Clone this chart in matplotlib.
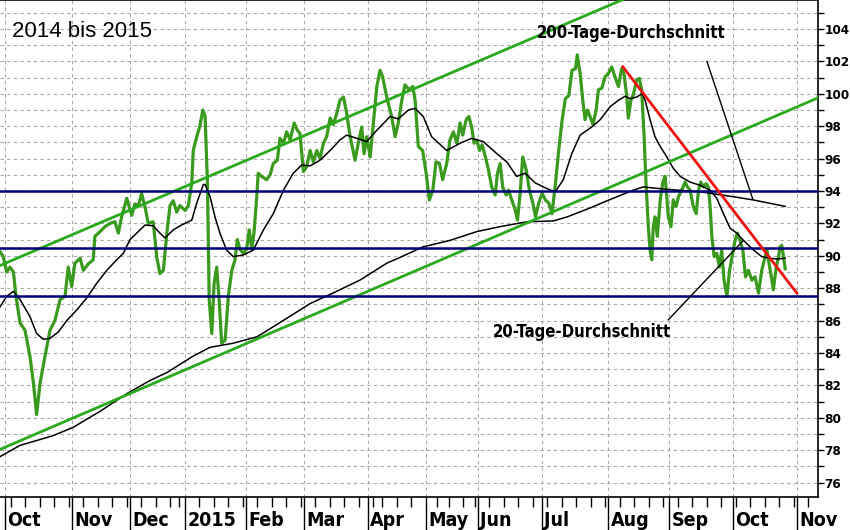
import matplotlib
matplotlib.use("Agg")
from matplotlib import pyplot as plt
from matplotlib import font_manager as fm
from matplotlib.ticker import FixedLocator, NullFormatter
import numpy as np

# trading days counted from 1 Oct 2014
price_day = [-1.7, -0.6, 0.6, 1.7, 2.9, 3.8, 5.2, 6.9, 8.6, 9.8, 10.9, 12.1, 13.8, 15.5, 17.2, 19.0,
             20.7, 21.8, 23.0, 24.1, 25.9, 27.0, 28.7, 30.4, 31.0, 32.8, 34.5, 36.2, 37.9, 39.1, 40.2,
             42.0, 43.7, 44.8, 46.0, 47.1, 48.3, 49.4, 51.1, 52.3, 53.4, 54.6, 55.8, 56.9, 58.0, 59.2,
             60.3, 62.1, 63.2, 64.4, 64.9, 66.1, 67.2, 68.2, 69.0, 69.8, 70.4, 71.3, 72.1, 73.0, 73.9,
             74.7, 75.9, 77.0, 78.2, 79.3, 80.1, 81.0, 82.2, 83.3, 84.2, 85.1, 85.9, 86.8, 87.3, 88.5,
             90.2, 91.4, 92.5, 93.9, 94.8, 96.0, 97.1, 98.3, 99.7, 100.8, 101.7, 102.9, 104.0, 105.2,
             106.3, 107.5, 108.6, 109.8, 110.9, 112.1, 113.2, 114.4, 115.5, 116.7, 117.8, 119.0, 120.7,
             121.8, 123.0, 123.8, 124.7, 125.9, 127.0, 128.2, 129.3, 130.2, 131.6, 133.3, 134.5, 135.6,
             136.8, 137.9, 139.4, 140.6, 141.4, 142.5, 144.0, 145.2, 146.3, 147.5, 148.6, 149.8, 150.9,
             152.3, 153.4, 154.6, 155.8, 156.9, 157.8, 159.0, 159.9, 160.9, 161.7, 162.7, 163.6, 164.5,
             165.5, 166.7, 167.8, 169.0, 169.8, 170.7, 171.6, 172.8, 173.6, 174.7, 175.9, 176.7, 177.6,
             178.5, 179.7, 180.8, 182.0, 182.9, 184.0, 185.2, 186.3, 187.5, 188.6, 189.8, 190.9, 192.1,
             193.2, 194.4, 195.5, 196.7, 197.3, 198.3, 199.2, 200.0, 200.8, 201.7, 202.7, 203.8, 204.6,
             205.8, 206.9, 208.0, 209.2, 210.3, 211.5, 212.6, 213.4, 214.4, 214.9, 215.8, 216.7, 217.8,
             218.7, 219.5, 220.3, 221.0, 221.8, 222.4, 223.0, 223.5, 224.1, 224.9, 225.9, 226.8, 227.6,
             228.7, 229.6, 230.4, 231.4, 232.2, 233.3, 234.5, 235.3, 236.2, 237.3, 238.3, 239.1, 239.9,
             240.8, 241.7, 242.5, 243.1, 243.7, 244.5, 245.4, 246.3, 247.1, 247.9, 248.9, 249.8, 250.7,
             251.7, 252.5, 253.4, 254.4, 255.3, 256.3, 257.5, 258.6, 259.8, 260.9, 261.8, 262.7, 263.4,
             264.4, 264.9, 265.9, 266.7, 267.2, 267.8, 268.4, 269.0]
price = [90.25, 89.95, 89.0, 89.3, 89.0, 87.5, 85.85, 85.4, 83.8, 82.15, 80.2, 82.15, 83.8, 85.4, 86.0, 87.3,
         87.5, 89.3, 88.1, 89.55, 89.85, 89.1, 89.5, 89.75, 91.2, 91.5, 91.8, 92.0, 92.1, 91.4, 92.4,
         93.55, 92.5, 93.2, 93.1, 93.85, 93.0, 92.0, 92.1, 89.95, 88.9, 89.1, 91.4, 93.1, 93.4, 92.7,
         93.1, 92.8, 93.1, 94.5, 96.5, 97.35, 98.0, 99.0, 98.6, 94.5, 87.3, 85.2, 88.3, 89.3, 87.1,
         84.6, 84.8, 87.5, 89.1, 89.75, 91.0, 90.4, 90.15, 90.4, 91.6, 90.4, 91.5, 93.65, 95.1, 94.9,
         94.7, 95.0, 95.7, 95.9, 97.25, 96.95, 97.65, 97.15, 98.2, 97.75, 97.55, 95.2, 95.5, 96.5,
         95.8, 96.5, 96.0, 96.95, 97.35, 98.5, 98.1, 98.8, 99.6, 99.8, 98.8, 97.35, 95.9,
         96.95, 97.95, 96.3, 97.35, 96.1, 98.2, 100.45, 101.45, 101.05, 99.8, 98.6, 97.35, 98.2,
         99.6, 100.55, 100.25, 100.45, 99.6, 96.75, 96.5, 95.1, 93.45, 94.05, 95.8, 95.7, 94.7,
         95.7, 97.15, 97.65, 96.95, 98.2, 97.45, 98.4, 98.6, 97.95, 96.95, 97.15, 96.5, 96.85,
         96.2, 95.3, 94.25, 93.75, 95.1, 95.7, 94.25, 93.75, 94.05, 93.45, 92.85, 92.2, 93.85,
         96.1, 95.3, 94.05, 93.25, 92.4, 93.25, 93.85, 93.45, 93.25, 92.6, 94.5, 96.5, 98.4,
         99.7, 99.9, 101.45, 101.55, 102.4, 101.25, 99.6, 98.4, 99.0, 98.6, 98.1, 99.0, 100.25,
         100.35, 101.05, 101.25, 101.65, 101.05, 100.45, 101.55, 101.25, 99.8, 98.5, 99.6, 100.0, 100.85,
         100.95, 100.25, 97.55, 94.5, 91.8, 90.35, 89.75, 91.8, 92.4, 91.2, 93.45, 94.55, 94.9,
         92.4, 91.8, 93.45, 93.05, 93.65, 94.05, 94.55, 94.25, 94.05, 93.05, 92.6, 94.05, 94.55,
         94.25, 94.45, 94.25, 93.05, 91.2, 89.95, 90.15, 89.3, 90.35, 88.5, 87.5, 89.1, 89.95,
         90.95, 91.4, 90.95, 90.35, 88.7, 89.1, 88.5, 88.7, 87.7, 89.1, 89.75, 90.35, 89.55,
         88.5, 87.9, 89.3, 89.95, 90.55, 90.65, 89.95, 89.2]

ma20_day = [-1.7, 0.6, 2.9, 5.2, 8.6, 10.9, 13.2, 15.5, 18.4, 21.3, 24.7, 28.2, 31.6, 35.1, 38.5, 40.8,
            43.1, 45.4, 48.3, 51.1, 53.4, 55.2, 58.0, 60.9, 64.4, 66.1, 68.4, 69.0, 70.7, 72.4, 74.1,
            76.4, 78.7, 82.2, 85.6, 89.1, 92.5, 96.0, 99.4, 102.3, 105.2, 108.6, 112.1, 115.5, 117.8,
            121.3, 124.7, 128.2, 132.8, 135.6, 139.1, 141.4, 144.2, 147.1, 152.3, 156.9, 160.9, 164.9,
            169.6, 173.0, 176.4, 179.3, 182.8, 186.8, 189.7, 192.5, 195.4, 198.3, 202.3, 205.2, 208.6,
            211.5, 213.8, 215.5, 217.8, 219.6, 220.7, 222.4, 224.1, 225.9, 228.2, 230.4, 232.8, 236.2,
            239.7, 243.1, 245.4, 247.7, 250.0, 252.3, 254.6, 258.1, 260.9, 263.8, 266.1, 269.0]
ma20 = [86.85, 87.5, 87.8, 87.3, 86.25, 85.2, 84.85, 84.9, 85.3, 86.0, 86.65, 87.4, 88.3, 89.1, 89.75, 90.15,
        91.0, 91.4, 91.9, 91.85, 91.4, 91.1, 91.6, 91.9, 92.2, 93.25, 94.4, 94.4, 93.65, 92.4, 91.4,
        90.35, 89.95, 90.05, 90.35, 91.6, 92.6, 94.05, 95.1, 95.6, 95.55, 95.9, 96.5, 97.15, 97.45,
        97.25, 97.05, 97.75, 98.6, 98.45, 99.0, 99.1, 98.6, 97.35, 96.5, 96.95, 97.25, 97.05,
        96.3, 95.8, 94.9, 95.1, 94.5, 94.15, 93.95, 94.7, 96.3, 97.45, 97.95, 98.4, 99.2,
        99.6, 99.85, 99.7, 99.8, 100.0, 99.6, 98.4, 97.35, 96.75, 96.1, 95.4, 94.9, 94.55,
        94.35, 94.05, 93.55, 92.6, 91.7, 91.4, 90.95, 90.35, 89.95, 89.85, 89.8, 89.85]

ma200_day = [-1.7, 5.2, 11.0, 16.6, 23.4, 32.8, 42.1, 50.0, 55.9, 64.8, 70.7, 78.6, 86.9, 95.9, 105.2,
             113.1, 122.4, 131.7, 136.2, 144.1, 153.4, 162.8, 170.7, 180.0, 189.0, 193.8, 201.7, 208.3,
             216.6, 220.0, 228.3, 239.7, 251.0, 257.9, 269.0]
ma200 = [77.6, 78.3, 78.6, 78.9, 79.4, 80.4, 81.5, 82.3, 82.8, 83.8, 84.35, 84.6, 85.0, 86.0, 87.05,
         87.7, 88.5, 89.55, 89.9, 90.55, 90.95, 91.5, 91.8, 92.1, 92.15, 92.4, 92.95, 93.45,
         94.05, 94.25, 94.1, 93.95, 93.65, 93.45, 93.05]

levels = [94.0, 90.5, 87.5]
upper_day, upper_val = [-1.7, 212.8], [89.4, 105.8]
lower_day, lower_val = [-1.7, 280.3], [78.05, 99.75]
red_day, red_val = [213.0, 273.0], [101.67, 87.7]
arrow200_day, arrow200_val = [242.0, 257.8], [102.0, 93.5]
arrow20_day, arrow20_val = [228.7, 254.6], [86.05, 90.95]

yticks = list(range(76, 105, 2))
month_starts = ["2014-10-01", "2014-11-03", "2014-12-01", "2015-01-02", "2015-02-02", "2015-03-02",
                "2015-04-01", "2015-05-04", "2015-06-01", "2015-07-01", "2015-08-03", "2015-09-01",
                "2015-10-01", "2015-11-02"]
month_labels = ["Oct", "Nov", "Dec", "2015", "Feb", "Mar", "Apr", "May", "Jun", "Jul", "Aug", "Sep",
                "Oct", "Nov"]
holidays = ["2014-12-24", "2014-12-25", "2014-12-26", "2014-12-31", "2015-01-01", "2015-04-03",
            "2015-04-06", "2015-05-01", "2015-05-14", "2015-05-25"]


def find_narrow_bold():
    # look for a condensed / narrow bold face among the installed fonts
    best = None
    for f in fm.fontManager.ttflist:
        fname = f.fname.lower()
        is_narrow = ("narrow" in fname or "condensed" in fname or
                     f.stretch in ("condensed", "semi-condensed"))
        if not is_narrow or "italic" in fname or "oblique" in fname:
            continue
        if f.weight not in ("bold", 700) and "bold" not in fname:
            continue
        if "extra" in fname or "semibold" in fname or "black" in fname:
            continue
        score = 0 if "liberation" in fname else (1 if "dejavu" in fname else 2)
        if best is None or score < best[0]:
            best = (score, f.fname)
    if best is None:
        return None
    return fm.FontProperties(fname=best[1])


narrow_fp = find_narrow_bold()
if narrow_fp is None:
    narrow_fp = fm.FontProperties(family="Liberation Sans", weight="bold")
    small_scale = 0.85
else:
    small_scale = 1.0
regular = "Liberation Sans"

month_x = np.busday_count("2014-10-01", month_starts, holidays=holidays)
fridays = np.arange(np.datetime64("2014-10-03"), np.datetime64("2015-11-14"), 7)
week_x = np.busday_count("2014-10-01", fridays, holidays=holidays)

fig = plt.figure(figsize=(8.5, 5.3), dpi=100)
ax = fig.add_axes([0, 33 / 530, 818 / 850, 497 / 530])

grid_kw = dict(color="#a8a8a8", lw=0.8, ls=(0, (3, 3)), zorder=0)
for v in range(75, 106):
    ax.axhline(v, **grid_kw)
for m in month_x:
    ax.axvline(m, **grid_kw)

ax.plot(price_day, price, color="#3a9a1e", lw=2.3, zorder=3, solid_joinstyle="round")
ax.plot(ma20_day, ma20, color="black", lw=1.1, zorder=4)
ax.plot(ma200_day, ma200, color="black", lw=1.1, zorder=4)
ax.plot(upper_day, upper_val, color="#2aa81e", lw=2.0, zorder=5)
ax.plot(lower_day, lower_val, color="#2aa81e", lw=2.0, zorder=5)
for lv in levels:
    ax.axhline(lv, color="#00007a", lw=1.8, zorder=6)
ax.plot(red_day, red_val, color="#ee1111", lw=2.0, zorder=7)
ax.plot(arrow200_day, arrow200_val, color="black", lw=1.0, zorder=7)
ax.plot(arrow20_day, arrow20_val, color="black", lw=1.0, zorder=7)


def nfp(size):
    p = narrow_fp.copy()
    p.set_size(size * small_scale)
    return p


ax.text(183.4, 103.75, "200-Tage-Durchschnitt", fontproperties=nfp(12), va="center", ha="left", zorder=8)
ax.text(168.3, 85.3, "20-Tage-Durchschnitt", fontproperties=nfp(12), va="center", ha="left", zorder=8)
ax.text(0.0147, 0.936, "2014 bis 2015", transform=ax.transAxes, fontfamily=regular, fontsize=16,
        va="center", ha="left")

ax.set_xlim(-1.72, 280.3)
ax.set_ylim(75.11, 105.79)

ax.yaxis.tick_right()
ax.set_yticks(yticks)
ax.set_yticklabels([str(v) for v in yticks], fontproperties=nfp(9.6))
ax.yaxis.set_minor_locator(FixedLocator(np.arange(75, 106, 1)))
ax.tick_params(axis="y", which="both", direction="out", length=4, width=1, pad=0.8)

ax.set_xticks(month_x)
ax.set_xticklabels([])
ax.xaxis.set_minor_locator(FixedLocator(week_x))
ax.xaxis.set_minor_formatter(NullFormatter())
ax.tick_params(axis="x", which="major", direction="out", length=34, width=1)
ax.tick_params(axis="x", which="minor", direction="out", length=7, width=1)

for m, lab in zip(month_x, month_labels):
    ax.text(m + 0.8, -0.058, lab, transform=ax.get_xaxis_transform(), fontproperties=nfp(14),
            ha="left", va="baseline")

for s in ["top", "right", "bottom"]:
    ax.spines[s].set_linewidth(1.2)
ax.spines["left"].set_visible(False)

fig.savefig("out.png", dpi=100)
